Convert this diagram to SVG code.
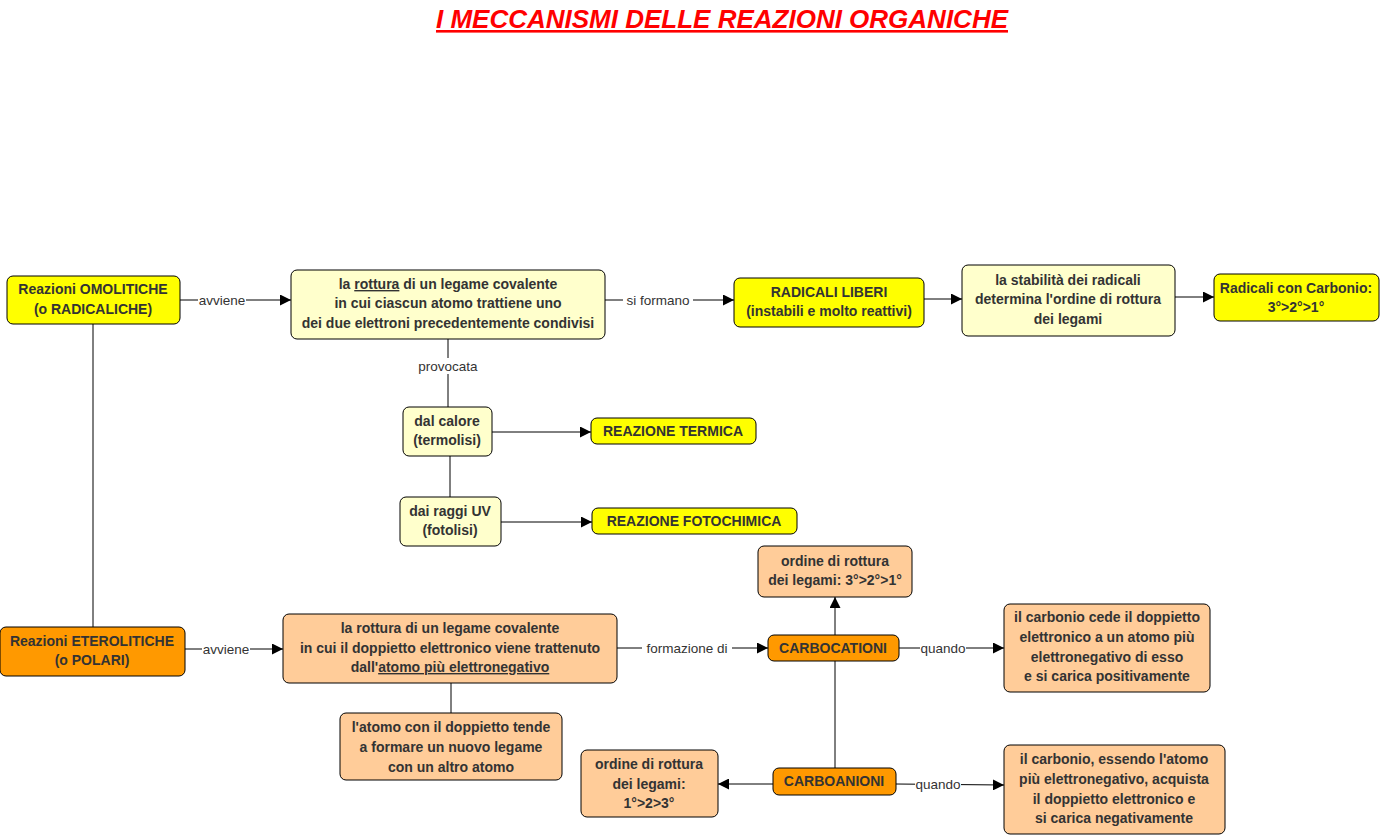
<svg xmlns="http://www.w3.org/2000/svg" width="1382" height="836" viewBox="0 0 1382 836">
<defs>
<marker id="arr" viewBox="0 0 10 10" refX="10" refY="5" markerWidth="11" markerHeight="11" markerUnits="userSpaceOnUse" orient="auto">
<path d="M0,0 L10,5 L0,10 z" fill="#000"/>
</marker>
<style>
.n rect{stroke:#000;stroke-width:1}
.y rect{fill:#ffff00}
.ly rect{fill:#ffffcc}
.o rect{fill:#ff9900}
.lo rect{fill:#ffcc99}
.n text{font-family:"Liberation Sans",Arial,sans-serif;font-size:14px;font-weight:bold;fill:#333;text-anchor:middle}
.c line,.c path{stroke:#000;stroke-width:1;fill:none}
.c .a{marker-end:url(#arr)}
.lbl{font-family:"Liberation Sans",Arial,sans-serif;font-size:13.5px;fill:#333;text-anchor:middle}
.lbg{fill:#fff}
.u{text-decoration:underline}
</style>
</defs>
<rect width="1382" height="836" fill="#fff"/>
<text x="722" y="28" font-family="Liberation Sans,Arial,sans-serif" font-size="26" font-weight="bold" font-style="italic" fill="#ff0000" text-anchor="middle" text-decoration="underline">I MECCANISMI DELLE REAZIONI ORGANICHE</text>

<g class="c" id="connectors">
<line class="a" x1="180" y1="300" x2="291" y2="300"/>
<line class="a" x1="605" y1="300" x2="734" y2="300"/>
<line class="a" x1="924" y1="299" x2="962" y2="299"/>
<line class="a" x1="1175" y1="297" x2="1214" y2="297"/>
<line x1="448" y1="339" x2="448" y2="407"/>
<line class="a" x1="492" y1="432" x2="591" y2="432"/>
<line x1="450" y1="456" x2="450" y2="497"/>
<line class="a" x1="501" y1="522" x2="592" y2="522"/>
<line x1="93" y1="324" x2="93" y2="627"/>
<line class="a" x1="185" y1="649" x2="283" y2="649"/>
<line class="a" x1="617" y1="648" x2="768" y2="648"/>
<line class="a" x1="835" y1="635" x2="835" y2="597"/>
<line class="a" x1="899" y1="648" x2="1004" y2="648"/>
<line x1="451" y1="683" x2="451" y2="713"/>
<line x1="835" y1="661" x2="835" y2="768"/>
<line class="a" x1="773" y1="784" x2="718" y2="784"/>
<line class="a" x1="896" y1="784" x2="1004" y2="785"/>
<rect class="lbg" x="198" y="292" width="48" height="16"/>
<text class="lbl" x="222" y="305">avviene</text>
<rect class="lbg" x="623" y="292" width="70" height="16"/>
<text class="lbl" x="658" y="305">si formano</text>
<rect class="lbg" x="415" y="358" width="66" height="16"/>
<text class="lbl" x="448" y="371">provocata</text>
<rect class="lbg" x="202" y="641" width="48" height="16"/>
<text class="lbl" x="226" y="654">avviene</text>
<rect class="lbg" x="642" y="640" width="90" height="16"/>
<text class="lbl" x="687" y="653">formazione di</text>
<rect class="lbg" x="920" y="640" width="46" height="16"/>
<text class="lbl" x="943" y="653">quando</text>
<rect class="lbg" x="915" y="776" width="46" height="16"/>
<text class="lbl" x="938" y="789">quando</text>
</g>

<g id="omolitiche" class="n y"><rect x="7" y="276" width="173" height="48" rx="6"/>
<text x="93" y="294">Reazioni OMOLITICHE</text><text x="93" y="314">(o RADICALICHE)</text></g>

<g id="rottura-omo" class="n ly"><rect x="291" y="270" width="314" height="69" rx="6"/>
<text x="448" y="289">la <tspan class="u">rottura</tspan> di un legame covalente</text>
<text x="448" y="308">in cui ciascun atomo trattiene uno</text>
<text x="448" y="328">dei due elettroni precedentemente condivisi</text></g>

<g id="radicali-liberi" class="n y"><rect x="734" y="278" width="190" height="49" rx="6"/>
<text x="829" y="297">RADICALI LIBERI</text><text x="829" y="316">(instabili e molto reattivi)</text></g>

<g id="stabilita" class="n ly"><rect x="962" y="265" width="213" height="71" rx="6"/>
<text x="1068" y="285">la stabilità dei radicali</text>
<text x="1068" y="304">determina l'ordine di rottura</text>
<text x="1068" y="324">dei legami</text></g>

<g id="radicali-carbonio" class="n y"><rect x="1214" y="274" width="165" height="47" rx="6"/>
<text x="1296" y="293">Radicali con Carbonio:</text><text x="1296" y="312">3°&gt;2°&gt;1°</text></g>

<g id="calore" class="n ly"><rect x="403" y="407" width="89" height="49" rx="6"/>
<text x="447" y="426">dal calore</text><text x="447" y="445">(termolisi)</text></g>

<g id="termica" class="n y"><rect x="591" y="418" width="165" height="26" rx="6"/>
<text x="673" y="436">REAZIONE TERMICA</text></g>

<g id="uv" class="n ly"><rect x="400" y="497" width="101" height="49" rx="6"/>
<text x="450" y="516">dai raggi UV</text><text x="450" y="535">(fotolisi)</text></g>

<g id="fotochimica" class="n y"><rect x="592" y="508" width="205" height="26" rx="6"/>
<text x="694" y="526">REAZIONE FOTOCHIMICA</text></g>

<g id="ordine-top" class="n lo"><rect x="758" y="546" width="154" height="51" rx="6"/>
<text x="835" y="566">ordine di rottura</text><text x="835" y="585">dei legami: 3°&gt;2°&gt;1°</text></g>

<g id="eterolitiche" class="n o"><rect x="0" y="627" width="185" height="49" rx="6"/>
<text x="92" y="646">Reazioni ETEROLITICHE</text><text x="92" y="665">(o POLARI)</text></g>

<g id="rottura-etero" class="n lo"><rect x="283" y="614" width="334" height="69" rx="6"/>
<text x="450" y="633">la rottura di un legame covalente</text>
<text x="450" y="653">in cui il doppietto elettronico viene trattenuto</text>
<text x="450" y="672">dall'<tspan class="u">atomo più elettronegativo</tspan></text></g>

<g id="carbocationi" class="n o"><rect x="768" y="635" width="131" height="26" rx="6"/>
<text x="833" y="653">CARBOCATIONI</text></g>

<g id="cede" class="n lo"><rect x="1004" y="604" width="206" height="88" rx="6"/>
<text x="1107" y="622">il carbonio cede il doppietto</text>
<text x="1107" y="642">elettronico a un atomo più</text>
<text x="1107" y="662">elettronegativo di esso</text>
<text x="1107" y="681">e si carica positivamente</text></g>

<g id="atomo-doppietto" class="n lo"><rect x="340" y="713" width="222" height="67" rx="6"/>
<text x="451" y="732">l'atomo con il doppietto tende</text>
<text x="451" y="752">a formare un nuovo legame</text>
<text x="451" y="772">con un altro atomo</text></g>

<g id="ordine-bottom" class="n lo"><rect x="581" y="750" width="137" height="67" rx="6"/>
<text x="649" y="769">ordine di rottura</text>
<text x="649" y="789">dei legami:</text>
<text x="649" y="808">1°&gt;2&gt;3°</text></g>

<g id="carboanioni" class="n o"><rect x="773" y="768" width="123" height="27" rx="6"/>
<text x="834" y="786">CARBOANIONI</text></g>

<g id="essendo" class="n lo"><rect x="1004" y="745" width="221" height="89" rx="6"/>
<text x="1114" y="764">il carbonio, essendo l'atomo</text>
<text x="1114" y="784">più elettronegativo, acquista</text>
<text x="1114" y="804">il doppietto elettronico e</text>
<text x="1114" y="823">si carica negativamente</text></g>
</svg>
